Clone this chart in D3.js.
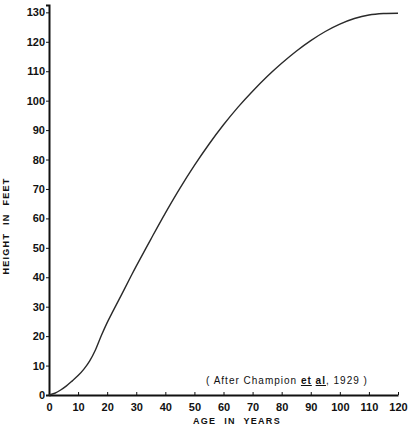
<html lang="en">
<head>
  <meta charset="UTF-8" />
  <title>Height growth curve</title>
  <style>
    body, html { margin: 0; padding: 0; background: white; }
    svg { display: block; }
    .axis text { font-family: "Liberation Sans", Arial, sans-serif; font-size: 11px; font-weight: bold; fill: #111; }
    .axis line, .axis path { stroke: #111; }
    .axis-label { font-family: "Liberation Sans", Arial, sans-serif; font-size: 9px; font-weight: bold; fill: #111; letter-spacing: 1.3px; word-spacing: 4px; }
    .note { font-family: "Liberation Sans", Arial, sans-serif; font-size: 10px; fill: #111; letter-spacing: 1px; }
  </style>
</head>
<body>
  <div id="canvas"></div>
  <script src="https://d3js.org/d3.v7.min.js"></script>
  <script>
    // values
    const ages    = [0, 2, 4, 6, 8, 10, 12, 14, 16, 18, 20, 22, 25, 28, 30, 35, 40, 45, 50, 55, 60, 65, 70, 75, 80, 85, 90, 95, 100, 105, 110, 115, 120];
    const heights = [0, 0.6, 1.7, 3.1, 4.8, 6.6, 8.8, 11.6, 15.4, 20.2, 24.6, 28.5, 34.2, 40, 43.8, 52.9, 61.8, 70.2, 78, 85.2, 91.8, 97.8, 103.2, 108.2, 112.7, 116.8, 120.4, 123.5, 126, 127.9, 129.1, 129.6, 129.7];
    const xTicks = [0, 10, 20, 30, 40, 50, 60, 70, 80, 90, 100, 110, 120];
    const yTicks = [0, 10, 20, 30, 40, 50, 60, 70, 80, 90, 100, 110, 120, 130];

    const w = 410, h = 428;
    const margin = { top: 5, right: 12, bottom: 33, left: 49 };

    const svg = d3.select("#canvas").append("svg")
      .attr("width", w)
      .attr("height", h);

    const x = d3.scaleLinear().domain([0, 120]).range([margin.left, w - margin.right]);
    const y = d3.scaleLinear().domain([0, 132.5]).range([h - margin.bottom, margin.top]);

    // x axis, small ticks pointing up
    svg.append("g")
      .attr("class", "axis")
      .attr("transform", "translate(0," + y(0) + ")")
      .call(d3.axisBottom(x).tickValues(xTicks).tickSizeInner(-3).tickSizeOuter(0).tickPadding(8))
      .call(g => g.select(".domain").attr("stroke-width", 2));

    // y axis, short ticks pointing left
    svg.append("g")
      .attr("class", "axis")
      .attr("transform", "translate(" + x(0) + ",0)")
      .call(d3.axisLeft(y).tickValues(yTicks).tickSize(3).tickPadding(1))
      .call(g => g.select(".domain").attr("stroke-width", 2));

    // growth curve
    const line = d3.line()
      .x((d, i) => x(ages[i]))
      .y(d => y(d))
      .curve(d3.curveCatmullRom);

    svg.append("path")
      .datum(heights)
      .attr("fill", "none")
      .attr("stroke", "#2a2a2a")
      .attr("stroke-width", 1.4)
      .attr("d", line);

    // axis titles
    svg.append("text")
      .attr("class", "axis-label")
      .attr("x", 237)
      .attr("y", 424)
      .attr("text-anchor", "middle")
      .text("AGE IN YEARS");

    svg.append("text")
      .attr("class", "axis-label")
      .attr("transform", "translate(9,226) rotate(-90)")
      .attr("text-anchor", "middle")
      .text("HEIGHT IN FEET");

    // source note
    const note = svg.append("text")
      .attr("class", "note")
      .attr("x", 287)
      .attr("y", 384)
      .attr("text-anchor", "middle");
    note.append("tspan").text("( After Champion ");
    note.append("tspan").attr("text-decoration", "underline").attr("font-weight", "bold").text("et");
    note.append("tspan").text(" ");
    note.append("tspan").attr("text-decoration", "underline").attr("font-weight", "bold").text("al");
    note.append("tspan").text(", 1929 )");
  </script>
</body>
</html>
